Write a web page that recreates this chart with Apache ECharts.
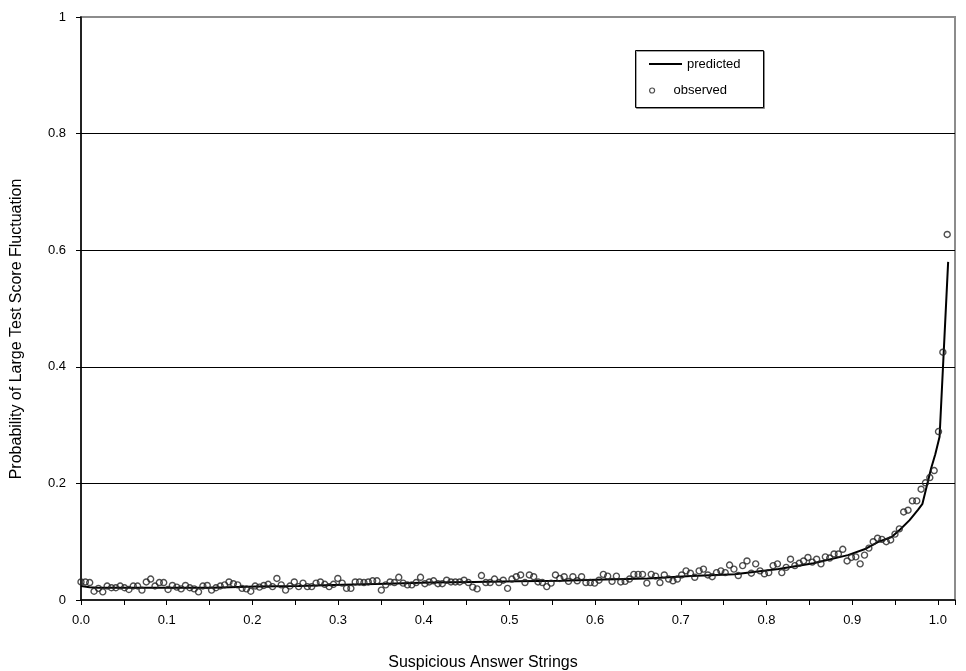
<!DOCTYPE html>
<html>
<head>
<meta charset="utf-8">
<script src="https://cdn.jsdelivr.net/npm/echarts@6/dist/echarts.min.js"></script>
<style>
  html,body{margin:0;padding:0;background:#fff;}
  #chart{width:966px;height:671px;}
</style>
</head>
<body>
<div id="chart"></div>
<script>
// observed points, evenly spaced along x
var obsStep = 0.00508;
var obsY = [
  0.031, 0.031, 0.030, 0.015, 0.020, 0.014, 0.024, 0.021, 0.021, 0.024,
  0.021, 0.018, 0.024, 0.024, 0.017, 0.031, 0.036, 0.024, 0.030, 0.030,
  0.018, 0.025, 0.022, 0.019, 0.025, 0.021, 0.019, 0.014, 0.024, 0.025,
  0.017, 0.021, 0.024, 0.026, 0.031, 0.028, 0.026, 0.020, 0.019, 0.015,
  0.024, 0.022, 0.025, 0.027, 0.023, 0.037, 0.026, 0.017, 0.024, 0.031,
  0.023, 0.029, 0.023, 0.023, 0.029, 0.031, 0.027, 0.023, 0.027, 0.037,
  0.029, 0.020, 0.020, 0.031, 0.031, 0.030, 0.031, 0.033, 0.033, 0.017,
  0.026, 0.031, 0.030, 0.039, 0.029, 0.026, 0.026, 0.030, 0.039, 0.028,
  0.031, 0.033, 0.028, 0.028, 0.034, 0.031, 0.031, 0.031, 0.034, 0.030,
  0.022, 0.019, 0.042, 0.030, 0.030, 0.036, 0.030, 0.034, 0.020, 0.036,
  0.040, 0.043, 0.030, 0.043, 0.040, 0.031, 0.030, 0.023, 0.029, 0.043,
  0.037, 0.040, 0.032, 0.040, 0.033, 0.040, 0.030, 0.030, 0.029, 0.034,
  0.044, 0.041, 0.032, 0.041, 0.031, 0.032, 0.036, 0.044, 0.044, 0.044,
  0.029, 0.044, 0.041, 0.030, 0.043, 0.036, 0.033, 0.036, 0.043, 0.050,
  0.046, 0.039, 0.050, 0.053, 0.043, 0.040, 0.047, 0.050, 0.047, 0.060,
  0.053, 0.042, 0.059, 0.067, 0.046, 0.062, 0.050, 0.045, 0.047, 0.059,
  0.062, 0.047, 0.056, 0.070, 0.059, 0.063, 0.067, 0.073, 0.065, 0.070,
  0.062, 0.074, 0.072, 0.079, 0.079, 0.087, 0.067, 0.073, 0.074, 0.062,
  0.077, 0.089, 0.100, 0.106, 0.104, 0.100, 0.103, 0.113, 0.122, 0.151,
  0.154, 0.170, 0.170, 0.190, 0.201, 0.210, 0.222, 0.289, 0.425, 0.627
];

// predicted curve
var predX = [0.000, 0.010, 0.020, 0.102, 0.153, 0.204, 0.254, 0.305, 0.356, 0.407,
             0.458, 0.509, 0.560, 0.611, 0.661, 0.712, 0.763, 0.814, 0.855, 0.895,
             0.916, 0.931, 0.946, 0.956, 0.967, 0.977, 0.982, 0.987, 0.992, 0.997,
             1.002, 1.007, 1.012];
var predY = [0.024, 0.022, 0.021, 0.021, 0.021, 0.023, 0.024, 0.026, 0.028, 0.030,
             0.031, 0.032, 0.033, 0.035, 0.037, 0.041, 0.044, 0.053, 0.063, 0.077,
             0.088, 0.100, 0.108, 0.121, 0.137, 0.155, 0.165, 0.195, 0.225, 0.250,
             0.280, 0.430, 0.580];

var xTitle = 'Suspicious Answer Strings';
var yTitle = 'Probability of Large Test Score Fluctuation';
var font = 'Liberation Sans, Arial, sans-serif';

var obsData = [];
for (var i = 0; i < obsY.length; i++) {
    obsData.push([i * obsStep, obsY[i]]);
}
var predData = [];
for (var j = 0; j < predX.length; j++) {
    predData.push([predX[j], predY[j]]);
}

var myChart = echarts.init(document.getElementById('chart'));
var option = {
    animation: false,
    backgroundColor: '#fff',
    grid: {
        left: 81, right: 11, top: 17, bottom: 71,
        show: true,
        borderColor: '#8c8c8c',
        borderWidth: 2
    },
    graphic: [
        {   // legend box
            type: 'rect',
            shape: {x: 635.5, y: 50.5, width: 128, height: 57},
            style: {fill: '#fff', stroke: '#000', lineWidth: 1, shadowColor: 'rgba(0,0,0,0.35)', shadowOffsetX: 1, shadowOffsetY: 1}
        },
        {
            type: 'text', x: 483, y: 663,
            style: {text: xTitle, font: '16px ' + font, fill: '#000', textAlign: 'center', textVerticalAlign: 'middle'}
        },
        {
            type: 'text', x: 17, y: 329, rotation: Math.PI / 2,
            style: {text: yTitle, font: '16px ' + font, fill: '#000', textAlign: 'center', textVerticalAlign: 'middle'}
        }
    ],
    legend: [
        {
            data: [{name: 'predicted', icon: 'rect'}],
            left: 649, top: 57.5, padding: 0,
            itemWidth: 33, itemHeight: 2,
            textStyle: {fontFamily: font, fontSize: 13, color: '#000'}
        },
        {
            data: [{name: 'observed', icon: 'circle'}],
            left: 649, top: 84, padding: 0,
            itemWidth: 33, itemHeight: 5,
            itemStyle: {color: 'rgba(0,0,0,0)', borderColor: '#222', borderWidth: 1.2},
            textStyle: {fontFamily: font, fontSize: 13, color: '#000'}
        }
    ],
    xAxis: {
        type: 'value',
        min: 0, max: 1.02, interval: 0.05,
        axisLine: {lineStyle: {color: '#000', width: 1.5}},
        axisTick: {show: true, length: 5, lineStyle: {color: '#000'}},
        axisLabel: {
            margin: 14, fontFamily: font, fontSize: 13, color: '#000',
            formatter: function (v) {
                var k = Math.round(v * 100);
                if (k % 10 === 0 && Math.abs(v * 100 - k) < 1e-6) return v.toFixed(1);
                return '';
            }
        },
        splitLine: {show: false}
    },
    yAxis: {
        type: 'value',
        min: 0, max: 1, interval: 0.2,
        axisLine: {show: true, lineStyle: {color: '#000', width: 1.5}},
        axisTick: {show: true, length: 5, lineStyle: {color: '#000'}},
        axisLabel: {margin: 15, fontFamily: font, fontSize: 13, color: '#000'},
        splitLine: {show: true, showMinLine: false, showMaxLine: false, lineStyle: {color: '#000', width: 1}}
    },
    series: [
        {
            name: 'predicted',
            type: 'line',
            data: predData,
            showSymbol: false,
            symbol: 'none',
            lineStyle: {color: '#000', width: 2},
            itemStyle: {color: '#000'},
            z: 2
        },
        {
            name: 'observed',
            type: 'scatter',
            data: obsData,
            symbol: 'circle',
            symbolSize: 6,
            itemStyle: {color: 'rgba(0,0,0,0)', borderColor: '#222', borderWidth: 1.4},
            z: 3
        }
    ]
};
option && myChart.setOption(option);
</script>
</body>
</html>
